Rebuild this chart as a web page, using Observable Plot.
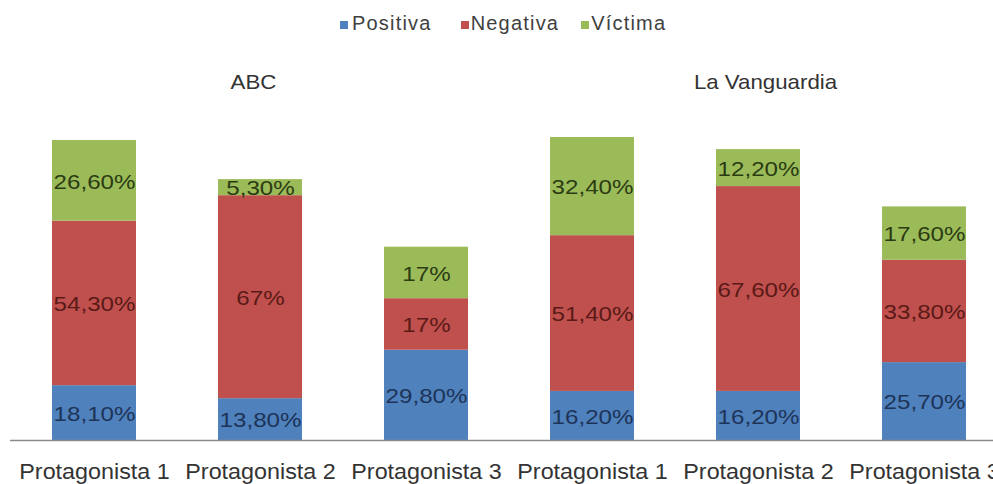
<!DOCTYPE html>
<html><head><meta charset="utf-8">
<script src="https://cdn.jsdelivr.net/npm/d3@7"></script>
<script src="https://cdn.jsdelivr.net/npm/@observablehq/plot@0.6"></script>
<style>
html,body{margin:0;padding:0;background:#fff;overflow:hidden;width:993px;height:484px;}
#wrap{position:relative;width:993px;height:484px;overflow:hidden;font-family:"Liberation Sans",Arial,sans-serif;}
#chart{position:absolute;top:0;left:0;width:1010px;}
#legend{position:absolute;top:12px;left:340px;display:flex;align-items:center;height:22px;font-size:20px;color:#404040;}
.item{display:flex;align-items:center;}
.sw{display:inline-block;width:8px;height:8px;margin-top:3px;}
.lab{letter-spacing:1.2px;}
</style></head><body>
<div id="wrap"><div id="chart"></div><div id="legend"></div></div>
<script>
const groups = ["ABC", "La Vanguardia"];
const protagonists = ["Protagonista 1", "Protagonista 2", "Protagonista 3"];
const series = ["Positiva", "Negativa", "Víctima"];
const positiva = [18.1, 13.8, 29.8, 16.2, 16.2, 25.7];
const negativa = [54.3, 67, 17, 51.4, 67.6, 33.8];
const victima = [26.6, 5.3, 17, 32.4, 12.2, 17.6];
const colors = ["#4F81BD", "#C0504D", "#9BBB59"];
const labelColors = ["#1d3458", "#5a1a17", "#2b3c13"];

const seriesValues = [positiva, negativa, victima];
const keys = [];
groups.forEach(g => protagonists.forEach(p => keys.push(g + "|" + p)));
const data = [];
keys.forEach((k, i) => {
  series.forEach((s, si) => {
    data.push({key: k, series: s, si, value: seriesValues[si][i]});
  });
});
const fmt = v => Number.isInteger(v) ? v + "%" : v.toFixed(2).replace(".", ",") + "%";

const chart = Plot.plot({
  width: 1010,
  height: 484,
  marginTop: 137,
  marginBottom: 44,
  marginLeft: 10,
  marginRight: 2,
  style: {fontFamily: "Liberation Sans, Arial, sans-serif", background: "white"},
  x: {domain: keys, paddingInner: 0.495, paddingOuter: 0.2475, label: null},
  y: {domain: [0, 100], axis: null, label: null},
  marks: [
    Plot.barY(data, {x: "key", y: "value", fill: d => colors[d.si]}),
    Plot.ruleY([0], {stroke: "#8a8a8a", strokeWidth: 1.5}),
    Plot.text(data, Plot.stackY({x: "key", y: "value", z: "series", text: d => fmt(d.value), fill: d => labelColors[d.si], fontSize: 21, dy: 1})),
    Plot.axisX({tickSize: 0, tickPadding: 23, tickFormat: k => k.split("|")[1], fontSize: 22, fill: "#333", label: null}),
    Plot.text([groups[0]], {x: g => g + "|" + protagonists[1], y: () => 100, text: d => d, fontSize: 21, dy: -55, dx: -7, fill: "#333"}),
    Plot.text([groups[1]], {x: g => g + "|" + protagonists[1], y: () => 100, text: d => d, fontSize: 21, dy: -55, dx: 7, fill: "#333"})
  ]
});
document.getElementById("chart").appendChild(chart);

// horizontal glyph stretch, as in the reference image
chart.querySelectorAll("text").forEach(t => {
  const s = t.textContent;
  let f = 1.06;
  if (s.endsWith("%")) f = 1.15;
  const len = t.getComputedTextLength();
  if (len > 0) {
    t.setAttribute("textLength", (len * f).toFixed(1));
    t.setAttribute("lengthAdjust", "spacingAndGlyphs");
  }
});

const legend = document.getElementById("legend");
const gaps = [29, 22, 0];
series.forEach((s, i) => {
  const item = document.createElement("div");
  item.className = "item";
  item.style.marginRight = gaps[i] + "px";
  const sw = document.createElement("span");
  sw.className = "sw";
  sw.style.background = colors[i];
  sw.style.marginRight = (i === 0 ? 4 : 2) + "px";
  const lab = document.createElement("span");
  lab.className = "lab";
  lab.textContent = s;
  item.appendChild(sw);
  item.appendChild(lab);
  legend.appendChild(item);
});
</script>
</body></html>
